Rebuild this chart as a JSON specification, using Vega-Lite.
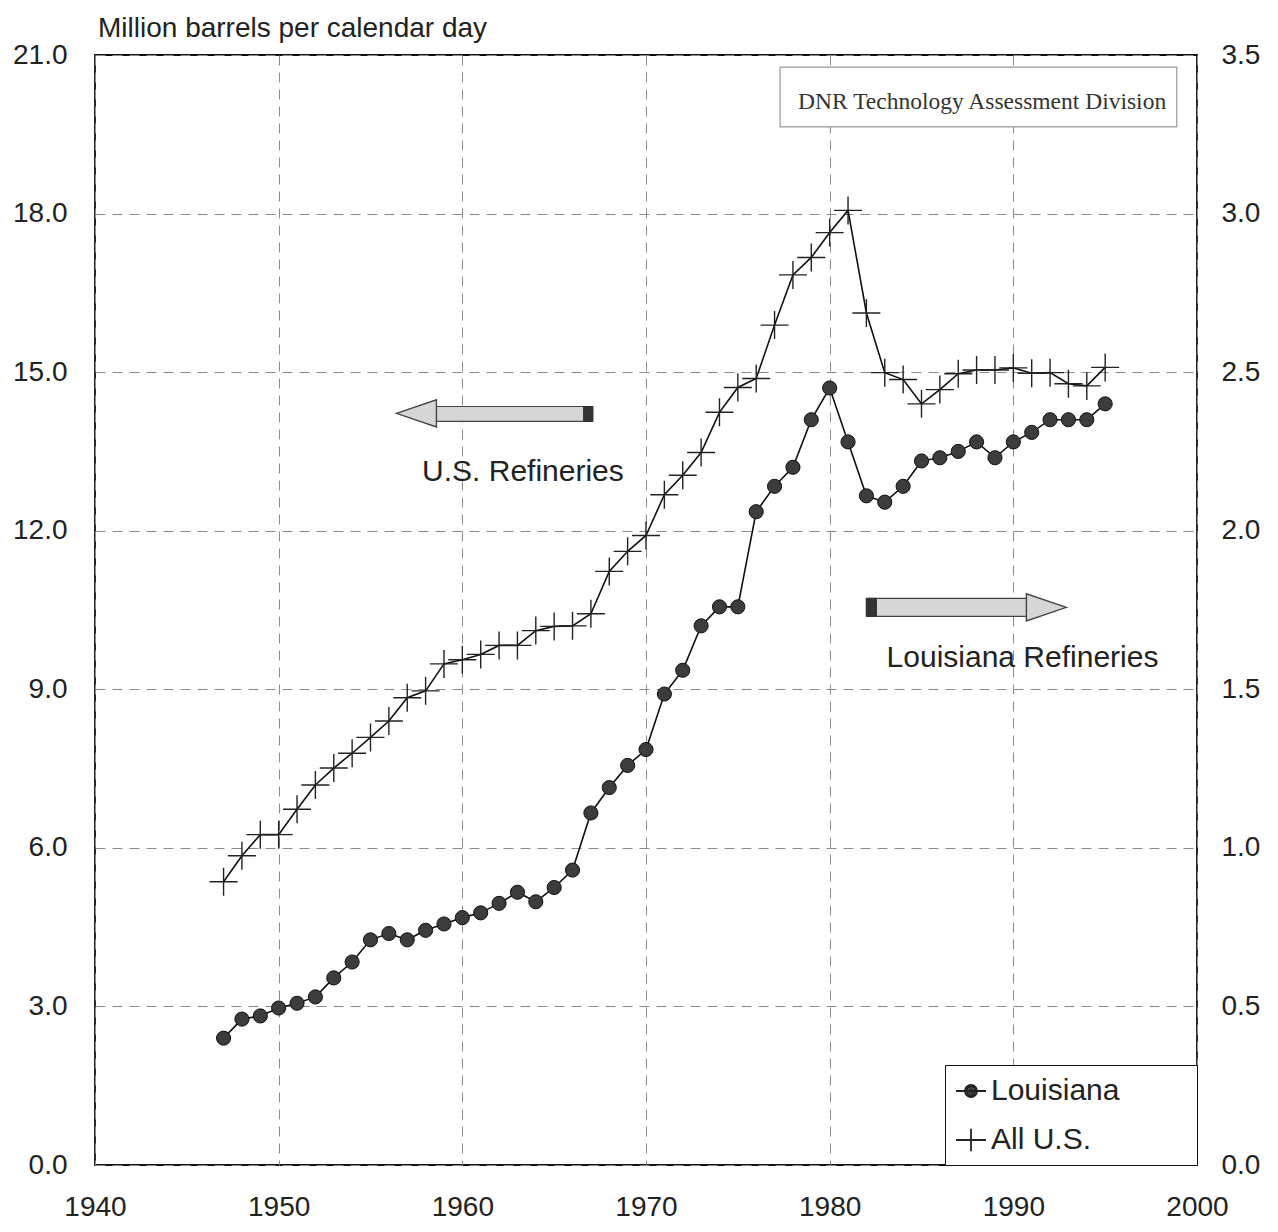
{
  "$schema": "https://vega.github.io/schema/vega-lite/v6.json",
  "width": 1102,
  "height": 1110,
  "autosize": {"type": "none"},
  "padding": {"left": 95, "top": 55, "right": 81, "bottom": 67},
  "background": "white",
  "title": {"text": "Million barrels per calendar day", "anchor": "start", "frame": "group", "offset": -2, "dx": 3, "font": "Liberation Sans", "fontSize": 28, "fontWeight": "normal", "color": "#222"},
  "datasets": {
    "refin": [
      {"year": 1947, "series": "All U.S.", "value": 5.36},
      {"year": 1948, "series": "All U.S.", "value": 5.85},
      {"year": 1949, "series": "All U.S.", "value": 6.25},
      {"year": 1950, "series": "All U.S.", "value": 6.25},
      {"year": 1951, "series": "All U.S.", "value": 6.73},
      {"year": 1952, "series": "All U.S.", "value": 7.19},
      {"year": 1953, "series": "All U.S.", "value": 7.51},
      {"year": 1954, "series": "All U.S.", "value": 7.79},
      {"year": 1955, "series": "All U.S.", "value": 8.09},
      {"year": 1956, "series": "All U.S.", "value": 8.40},
      {"year": 1957, "series": "All U.S.", "value": 8.84},
      {"year": 1958, "series": "All U.S.", "value": 8.97},
      {"year": 1959, "series": "All U.S.", "value": 9.48},
      {"year": 1960, "series": "All U.S.", "value": 9.56},
      {"year": 1961, "series": "All U.S.", "value": 9.66},
      {"year": 1962, "series": "All U.S.", "value": 9.83},
      {"year": 1963, "series": "All U.S.", "value": 9.83},
      {"year": 1964, "series": "All U.S.", "value": 10.11},
      {"year": 1965, "series": "All U.S.", "value": 10.19},
      {"year": 1966, "series": "All U.S.", "value": 10.20},
      {"year": 1967, "series": "All U.S.", "value": 10.43},
      {"year": 1968, "series": "All U.S.", "value": 11.23},
      {"year": 1969, "series": "All U.S.", "value": 11.61},
      {"year": 1970, "series": "All U.S.", "value": 11.91},
      {"year": 1971, "series": "All U.S.", "value": 12.68},
      {"year": 1972, "series": "All U.S.", "value": 13.05},
      {"year": 1973, "series": "All U.S.", "value": 13.48},
      {"year": 1974, "series": "All U.S.", "value": 14.24},
      {"year": 1975, "series": "All U.S.", "value": 14.71},
      {"year": 1976, "series": "All U.S.", "value": 14.88},
      {"year": 1977, "series": "All U.S.", "value": 15.89},
      {"year": 1978, "series": "All U.S.", "value": 16.84},
      {"year": 1979, "series": "All U.S.", "value": 17.17},
      {"year": 1980, "series": "All U.S.", "value": 17.64},
      {"year": 1981, "series": "All U.S.", "value": 18.06},
      {"year": 1982, "series": "All U.S.", "value": 16.12},
      {"year": 1983, "series": "All U.S.", "value": 14.99},
      {"year": 1984, "series": "All U.S.", "value": 14.86},
      {"year": 1985, "series": "All U.S.", "value": 14.40},
      {"year": 1986, "series": "All U.S.", "value": 14.67},
      {"year": 1987, "series": "All U.S.", "value": 14.97},
      {"year": 1988, "series": "All U.S.", "value": 15.04},
      {"year": 1989, "series": "All U.S.", "value": 15.04},
      {"year": 1990, "series": "All U.S.", "value": 15.08},
      {"year": 1991, "series": "All U.S.", "value": 14.98},
      {"year": 1992, "series": "All U.S.", "value": 14.99},
      {"year": 1993, "series": "All U.S.", "value": 14.78},
      {"year": 1994, "series": "All U.S.", "value": 14.74},
      {"year": 1995, "series": "All U.S.", "value": 15.09},
      {"year": 1947, "series": "Louisiana", "value": 0.40},
      {"year": 1948, "series": "Louisiana", "value": 0.46},
      {"year": 1949, "series": "Louisiana", "value": 0.47},
      {"year": 1950, "series": "Louisiana", "value": 0.495},
      {"year": 1951, "series": "Louisiana", "value": 0.51},
      {"year": 1952, "series": "Louisiana", "value": 0.53},
      {"year": 1953, "series": "Louisiana", "value": 0.59},
      {"year": 1954, "series": "Louisiana", "value": 0.64},
      {"year": 1955, "series": "Louisiana", "value": 0.71},
      {"year": 1956, "series": "Louisiana", "value": 0.73},
      {"year": 1957, "series": "Louisiana", "value": 0.71},
      {"year": 1958, "series": "Louisiana", "value": 0.74},
      {"year": 1959, "series": "Louisiana", "value": 0.76},
      {"year": 1960, "series": "Louisiana", "value": 0.78},
      {"year": 1961, "series": "Louisiana", "value": 0.795},
      {"year": 1962, "series": "Louisiana", "value": 0.825},
      {"year": 1963, "series": "Louisiana", "value": 0.86},
      {"year": 1964, "series": "Louisiana", "value": 0.83},
      {"year": 1965, "series": "Louisiana", "value": 0.875},
      {"year": 1966, "series": "Louisiana", "value": 0.93},
      {"year": 1967, "series": "Louisiana", "value": 1.11},
      {"year": 1968, "series": "Louisiana", "value": 1.19},
      {"year": 1969, "series": "Louisiana", "value": 1.26},
      {"year": 1970, "series": "Louisiana", "value": 1.31},
      {"year": 1971, "series": "Louisiana", "value": 1.485},
      {"year": 1972, "series": "Louisiana", "value": 1.56},
      {"year": 1973, "series": "Louisiana", "value": 1.70},
      {"year": 1974, "series": "Louisiana", "value": 1.76},
      {"year": 1975, "series": "Louisiana", "value": 1.76},
      {"year": 1976, "series": "Louisiana", "value": 2.06},
      {"year": 1977, "series": "Louisiana", "value": 2.14},
      {"year": 1978, "series": "Louisiana", "value": 2.20},
      {"year": 1979, "series": "Louisiana", "value": 2.35},
      {"year": 1980, "series": "Louisiana", "value": 2.45},
      {"year": 1981, "series": "Louisiana", "value": 2.28},
      {"year": 1982, "series": "Louisiana", "value": 2.11},
      {"year": 1983, "series": "Louisiana", "value": 2.09},
      {"year": 1984, "series": "Louisiana", "value": 2.14},
      {"year": 1985, "series": "Louisiana", "value": 2.22},
      {"year": 1986, "series": "Louisiana", "value": 2.23},
      {"year": 1987, "series": "Louisiana", "value": 2.25},
      {"year": 1988, "series": "Louisiana", "value": 2.28},
      {"year": 1989, "series": "Louisiana", "value": 2.23},
      {"year": 1990, "series": "Louisiana", "value": 2.28},
      {"year": 1991, "series": "Louisiana", "value": 2.31},
      {"year": 1992, "series": "Louisiana", "value": 2.35},
      {"year": 1993, "series": "Louisiana", "value": 2.35},
      {"year": 1994, "series": "Louisiana", "value": 2.35},
      {"year": 1995, "series": "Louisiana", "value": 2.40}
    ],
    "box": [{"year": 1977.3, "year2": 1998.9, "value": 20.77, "value2": 19.64}],
    "note": [{"year": 1988.3, "value": 19.98, "label": "DNR Technology Assessment Division"}],
    "shafts": [
      {"year": 1958.4, "year2": 1967.1, "value": 14.07, "value2": 14.35},
      {"year": 1982.0, "year2": 1991.0, "value": 10.38, "value2": 10.72}
    ],
    "ends": [
      {"year": 1966.6, "year2": 1967.1, "value": 14.07, "value2": 14.35},
      {"year": 1982.0, "year2": 1982.55, "value": 10.38, "value2": 10.72}
    ],
    "headL": [{"year": 1957.5, "value": 14.22}],
    "headR": [{"year": 1991.8, "value": 10.55}],
    "labels": [
      {"year": 1963.3, "value": 12.94, "label": "U.S. Refineries"},
      {"year": 1990.5, "value": 9.43, "label": "Louisiana Refineries"}
    ]
  },
  "encoding": {
    "x": {"field": "year", "type": "quantitative", "title": null,
      "scale": {"domain": [1940, 2000], "nice": false, "zero": false},
      "axis": {"values": [1940, 1950, 1960, 1970, 1980, 1990, 2000], "format": "d", "labelFlush": false, "grid": true}}
  },
  "layer": [
    {
      "encoding": {
        "y": {"field": "value", "type": "quantitative", "title": null,
          "scale": {"domain": [0, 21], "nice": false},
          "axis": {"orient": "left", "values": [0, 3, 6, 9, 12, 15, 18, 21], "format": ".1f", "grid": true}}
      },
      "layer": [
        {"data": {"name": "box"}, "mark": {"type": "rect", "fill": "white", "stroke": "#999", "strokeWidth": 1.2},
          "encoding": {"x2": {"field": "year2"}, "y2": {"field": "value2"}}},
        {"data": {"name": "note"}, "mark": {"type": "text", "font": "Liberation Serif", "fontSize": 23.5, "color": "#333", "align": "center", "baseline": "alphabetic"},
          "encoding": {"text": {"field": "label"}}},
        {"data": {"name": "refin"}, "transform": [{"filter": "datum.series === 'All U.S.'"}],
          "mark": {"type": "line", "color": "#111", "strokeWidth": 1.6}},
        {"data": {"name": "refin"}, "transform": [{"filter": "datum.series === 'All U.S.'"}],
          "mark": {"type": "point", "shape": "M-1,0L1,0M0,-1L0,1", "size": 784, "filled": false, "stroke": "#222", "strokeWidth": 1.4, "opacity": 1}},
        {"data": {"name": "shafts"}, "mark": {"type": "rect", "fill": "#d6d6d6", "stroke": "#444", "strokeWidth": 1.2},
          "encoding": {"x2": {"field": "year2"}, "y2": {"field": "value2"}}},
        {"data": {"name": "ends"}, "mark": {"type": "rect", "fill": "#333", "stroke": "#333", "strokeWidth": 1},
          "encoding": {"x2": {"field": "year2"}, "y2": {"field": "value2"}}},
        {"data": {"name": "headL"}, "mark": {"type": "point", "shape": "M-1,0L1,-0.68L1,0.68Z", "size": 1600, "filled": true, "fill": "#d6d6d6", "stroke": "#444", "strokeWidth": 1.4, "opacity": 1}},
        {"data": {"name": "headR"}, "mark": {"type": "point", "shape": "M1,0L-1,-0.68L-1,0.68Z", "size": 1600, "filled": true, "fill": "#d6d6d6", "stroke": "#444", "strokeWidth": 1.4, "opacity": 1}},
        {"data": {"name": "labels"}, "mark": {"type": "text", "font": "Liberation Sans", "fontSize": 30, "color": "#222", "align": "center", "baseline": "alphabetic"},
          "encoding": {"text": {"field": "label"}}},
        {"data": {"name": "refin"}, "transform": [{"filter": "false"}],
          "mark": {"type": "point", "filled": false, "stroke": "#111", "strokeWidth": 2, "opacity": 1},
          "encoding": {
            "shape": {"field": "series", "type": "nominal",
              "scale": {"domain": ["Louisiana", "All U.S."], "range": ["M-1,0L1,0M-0.4,0A0.4,0.4,0,1,1,0.4,0A0.4,0.4,0,1,1,-0.4,0M-0.27,0A0.27,0.27,0,1,1,0.27,0A0.27,0.27,0,1,1,-0.27,0M-0.14,0A0.14,0.14,0,1,1,0.14,0A0.14,0.14,0,1,1,-0.14,0", "M-1,0L1,0M0,-0.75L0,0.75"]},
              "legend": {"title": null, "orient": "bottom-right", "offset": 0, "padding": 10, "rowPadding": 18, "labelOffset": 4,
                "strokeColor": "#111", "fillColor": "white",
                "labelFont": "Liberation Sans", "labelFontSize": 30, "labelColor": "#222", "labelLimit": 400,
                "symbolSize": 900, "symbolStrokeColor": "#222", "symbolStrokeWidth": 1.8, "symbolOpacity": 1,
                "labelExpr": "datum.label + '\u00a0\u00a0\u00a0\u00a0\u00a0\u00a0\u00a0\u00a0\u200b'"}}
          }}
      ]
    },
    {
      "data": {"name": "refin"},
      "transform": [{"filter": "datum.series === 'Louisiana'"}],
      "encoding": {
        "y": {"field": "value", "type": "quantitative", "title": null,
          "scale": {"domain": [0, 3.5], "nice": false},
          "axis": {"orient": "right", "values": [0, 0.5, 1, 1.5, 2, 2.5, 3, 3.5], "format": ".1f", "grid": false}}
      },
      "layer": [
        {"mark": {"type": "line", "color": "#111", "strokeWidth": 1.6}},
        {"mark": {"type": "circle", "size": 200, "fill": "#3c3c3c", "stroke": "#111", "strokeWidth": 1, "opacity": 1}}
      ]
    }
  ],
  "resolve": {"scale": {"y": "independent"}},
  "config": {
    "font": "Liberation Sans",
    "view": {"stroke": "#111", "strokeWidth": 1.8},
    "axis": {"labelFont": "Liberation Sans", "labelFontSize": 28, "labelColor": "#222", "ticks": false, "domain": false,
      "gridColor": "#8a8a8a", "gridDash": [10, 7], "gridWidth": 1, "gridOpacity": 1},
    "axisX": {"labelPadding": 28},
    "axisLeft": {"labelPadding": 28},
    "axisRight": {"labelPadding": 24}
  }
}
